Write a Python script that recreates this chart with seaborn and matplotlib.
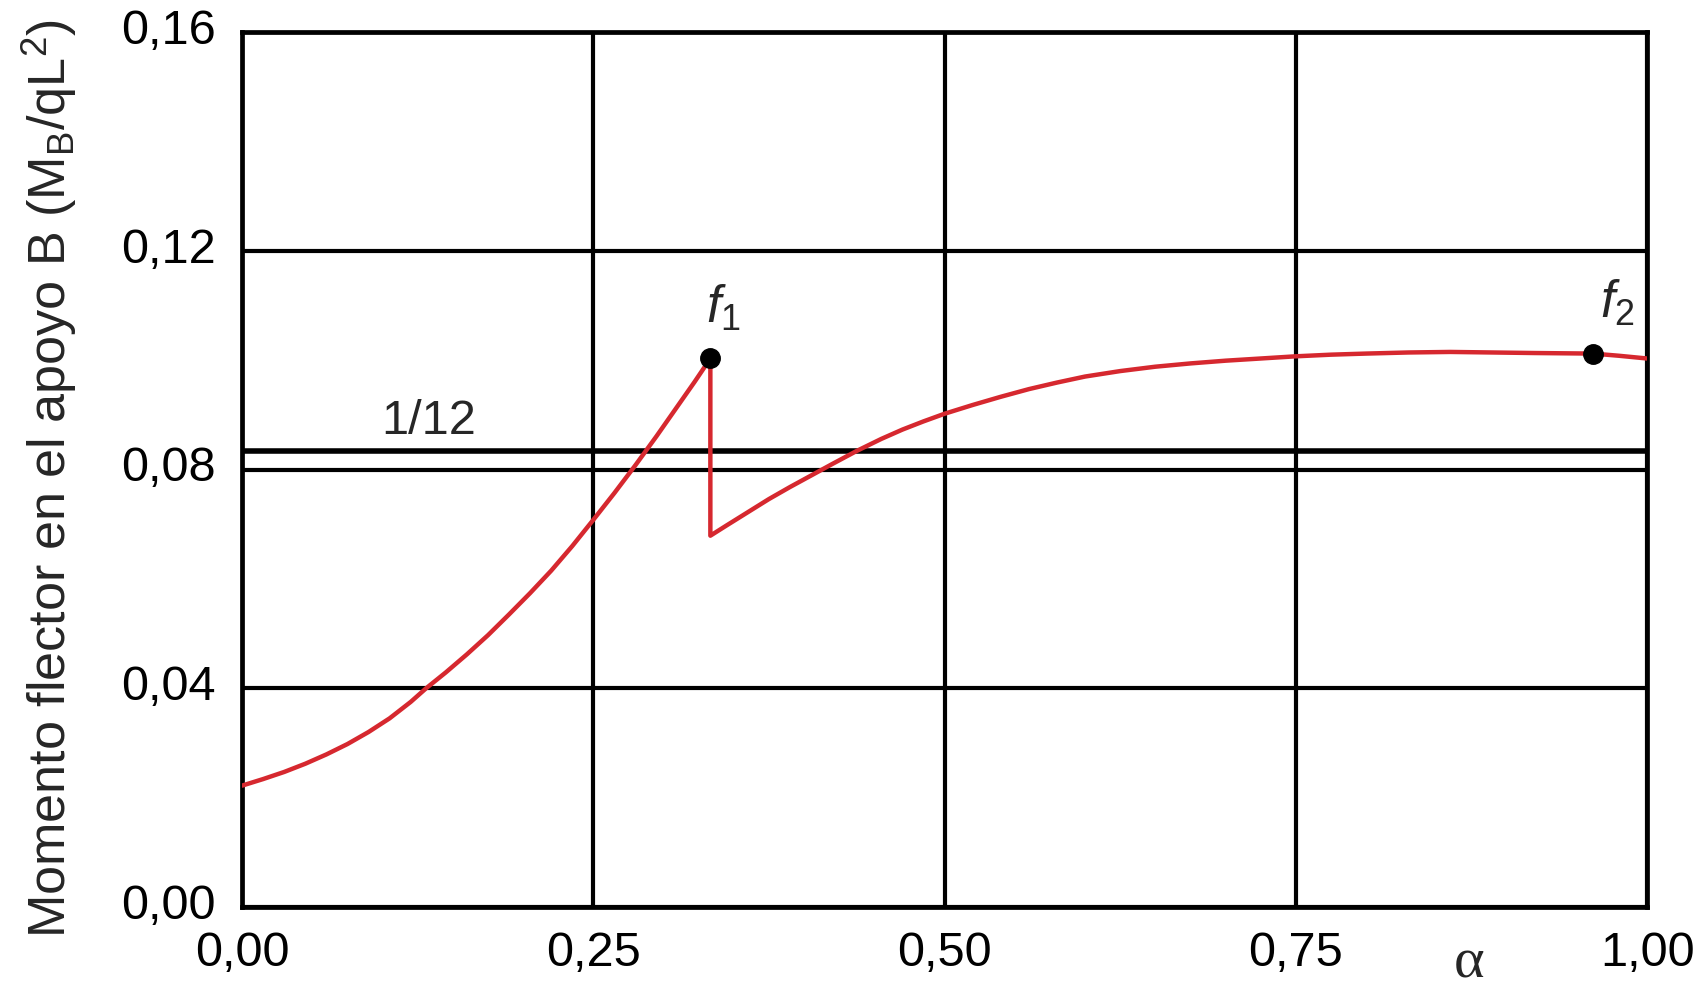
import pandas as pd
import matplotlib
matplotlib.use('Agg')
import matplotlib.pyplot as plt
import matplotlib.transforms as mtransforms
import seaborn as sns

# valores
alpha_1 = [0.000, 0.015, 0.030, 0.045, 0.060, 0.075, 0.090, 0.105, 0.120, 0.131,
           0.145, 0.160, 0.175, 0.190, 0.205, 0.220, 0.235, 0.250, 0.265, 0.280,
           0.295, 0.310, 0.322, 0.3333]
mb_1 = [0.0222, 0.0234, 0.0247, 0.0262, 0.0279, 0.0298, 0.0320, 0.0345, 0.0375, 0.0400,
        0.0429, 0.0462, 0.0497, 0.0535, 0.0574, 0.0615, 0.0660, 0.0708, 0.0757, 0.0808,
        0.0861, 0.0916, 0.0960, 0.1003]

alpha_2 = [0.3333, 0.345, 0.360, 0.375, 0.390, 0.405, 0.420, 0.4375, 0.455, 0.470,
           0.485, 0.500, 0.520, 0.540, 0.560, 0.580, 0.600, 0.625, 0.650, 0.675,
           0.700, 0.725, 0.750, 0.775, 0.800, 0.830, 0.860, 0.890, 0.920, 0.9614,
           0.980, 1.000]
mb_2 = [0.0679, 0.0698, 0.0722, 0.0746, 0.0768, 0.0789, 0.0810, 0.0834, 0.0856, 0.0873,
        0.0888, 0.0902, 0.0918, 0.0933, 0.0947, 0.0959, 0.0970, 0.0980, 0.0988, 0.0994,
        0.0999, 0.1003, 0.1007, 0.1010, 0.1012, 0.1014, 0.1015, 0.1014, 0.1013, 0.1012,
        0.1008, 0.1003]

puntos_alpha = [0.3333, 0.9614]
puntos_mb = [0.1003, 0.1012]
puntos_txt = [r'$\mathit{f}_{\mathit{1}}$', r'$\mathit{f}_{\mathit{2}}$']

x_ticks = [0.0, 0.25, 0.5, 0.75, 1.0]
x_labels = ['0,00', '0,25', '0,50', '0,75', '1,00']
y_ticks = [0.0, 0.04, 0.08, 0.12, 0.16]
y_labels = ['0,00', '0,04', '0,08', '0,12', '0,16']

sns.set_style('white')
plt.rcParams['font.family'] = ['Liberation Sans', 'DejaVu Sans']
plt.rcParams['mathtext.fontset'] = 'custom'
plt.rcParams['mathtext.rm'] = 'Liberation Sans'
plt.rcParams['mathtext.it'] = 'Liberation Sans:italic'

curva = pd.DataFrame({'alpha': alpha_1 + alpha_2, 'mb': mb_1 + mb_2})

fig = plt.figure(figsize=(16.94, 9.94), dpi=100)
ax = fig.add_axes([0.1429, 0.0875, 0.8294, 0.8803])

ax.grid(True, color='black', linewidth=3.0)
ax.set_axisbelow(True)
ax.axhline(1 / 12, color='black', linewidth=4.0, zorder=2)

sns.lineplot(data=curva, x='alpha', y='mb', sort=False, estimator=None,
             color='#d6282f', linewidth=3.2, ax=ax, zorder=3)
ax.plot(puntos_alpha, puntos_mb, 'o', color='black', markersize=14, zorder=4)

# pequeño desplazamiento de cada etiqueta respecto a su punto
dx = [-0.003, 0.005]
for xa, ya, t, d in zip(puntos_alpha, puntos_mb, puntos_txt, dx):
    ax.text(xa + d, ya + 0.0065, t, fontsize=37, ha='left', va='baseline')

ax.text(0.099, 0.0846, '1/12', fontsize=35, ha='left', va='bottom')

ax.set_xlim(0, 1)
ax.set_ylim(0, 0.16)
ax.set_xticks(x_ticks)
ax.set_xticklabels(x_labels)
ax.set_yticks(y_ticks)
ax.set_yticklabels(y_labels)
ax.tick_params(axis='both', length=0, labelsize=35, colors='black')
ax.tick_params(axis='x', pad=17)
ax.tick_params(axis='y', pad=19)
off = mtransforms.ScaledTranslation(0, 4 / 72, fig.dpi_scale_trans)
for lab in ax.get_yticklabels():
    lab.set_transform(lab.get_transform() + off)

for s in ax.spines.values():
    s.set_color('black')
    s.set_linewidth(3.4)

ax.set_ylabel(r'Momento flector en el apoyo B (M$_\mathrm{B}$/qL$^\mathrm{2}$)', fontsize=37.5)
ax.yaxis.set_label_coords(-0.116, 0.49)
ax.set_xlabel('α', fontsize=42, fontfamily=['Liberation Serif', 'DejaVu Serif'])
ax.xaxis.set_label_coords(0.873, -0.035)

fig.savefig('out.png', dpi=100)
